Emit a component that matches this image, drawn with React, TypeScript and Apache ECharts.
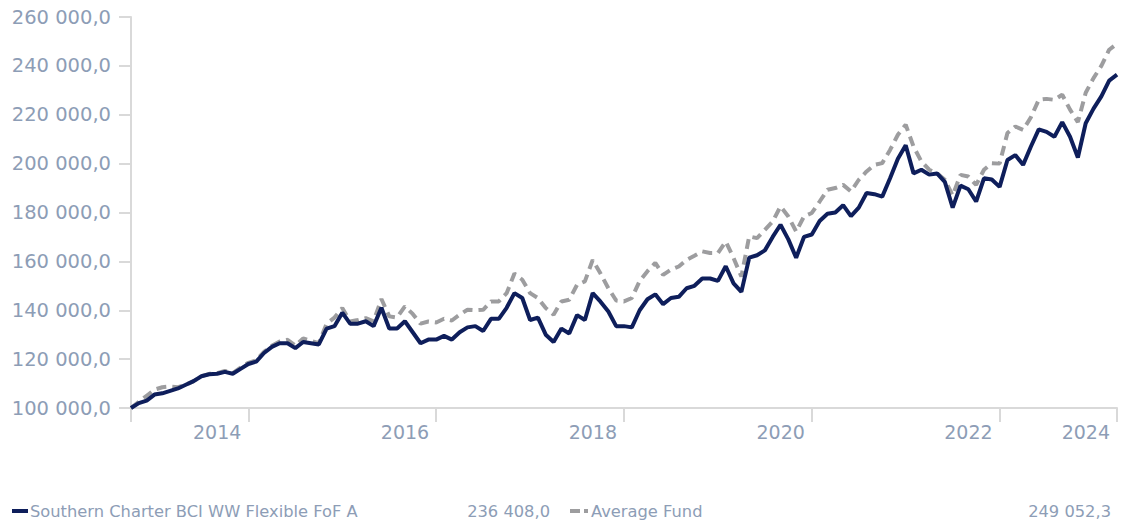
import React, { useEffect, useRef } from "react";
import * as echarts from "echarts";

const startYear = 2013;
const startMonth = 9; // September

const fundValues = [
  100000, 102000, 103000, 105500, 106000, 107000, 108000, 109500, 111000, 113000,
  113800, 114000, 114800, 114000, 116000, 118000, 119000, 122500, 125000, 126500,
  126500, 124500, 127000, 126500, 126000, 132500, 133500, 139000, 134500, 134500,
  135500, 133500, 141000, 132500, 132500, 135500, 131000, 126500, 128000, 128000,
  129500, 128000, 131000, 133000, 133500, 131500, 136500, 136500, 141000, 147000,
  145000, 136000, 137000, 130000, 127000, 132500, 130500, 138000, 136000, 147000,
  143500, 139500, 133500, 133500, 133000, 140000, 144500, 146500, 142500, 145000,
  145500, 149000, 150000, 153000, 153000, 152000, 158000, 151000, 147500, 161500,
  162500, 164500, 170000, 175000, 169000, 161500, 170000, 171000, 176500, 179500,
  180000, 183000, 178500, 182000, 188000, 187500, 186500, 194000, 202000, 207500,
  196000, 197500, 195500, 196000, 192500, 182000, 191000, 189500, 184500, 194000,
  193500, 190500, 201500, 203500, 199500, 207000, 214000, 213000, 211000, 217000,
  211000, 202500, 216500, 222500, 227500, 234000, 236408
];

const averageValues = [
  100000, 102500, 105000, 107500, 108500, 108800, 108500, 109500, 111000, 113000,
  114000, 114200, 115200, 114300, 116500, 118500, 119500, 123000, 125500, 127200,
  127900, 125500, 128500, 127500, 126500, 134500, 137000, 140900, 135400, 136000,
  136800, 135500, 144600, 137500, 137000, 141600, 138500, 134500, 135400, 135000,
  136500, 135800, 138200, 140200, 140000, 140200, 143600, 143600, 147000, 155000,
  152500, 147000, 145000, 140900, 138200, 143600, 144300, 150400, 151800, 160600,
  155000, 149000, 144000, 143600, 145000, 152000, 156000, 159400, 154500, 156600,
  157900, 160600, 162300, 164100, 163400, 163400, 168100, 161400, 153800, 170200,
  169500, 172900, 176300, 182500, 178400, 172200, 178400, 179800, 184500, 189300,
  190000, 191300, 188600, 193400, 196800, 199500, 200200, 205600, 211800, 215900,
  207000, 200900, 197500, 196100, 193400, 187000, 195400, 194700, 191300, 197500,
  200200, 200000, 212500, 215200, 213800, 219000, 226100, 226500, 226100, 228200,
  222100, 217000, 229000, 235000, 240000, 246600, 249052.3
];

const categories: string[] = fundValues.map((_, i) => {
  const m = startMonth - 1 + i;
  const y = startYear + Math.floor(m / 12);
  const mm = (m % 12) + 1;
  return `${y}-${mm < 10 ? "0" + mm : mm}`;
});

const tickIndices = [0, 15, 39, 63, 87, 111, 126];
const labelIndices = [15, 39, 63, 87, 111, 126];

const fundName = "Southern Charter BCI WW Flexible FoF A";
const avgName = "Average Fund";
const fundLast = "236 408,0";
const avgLast = "249 052,3";

const NAVY = "#0e1e5b";
const GREY = "#9d9d9f";
const LABEL = "#8d9db6";
const AXIS = "#d9d9d9";

function fmt(v: number): string {
  const s = Math.round(v).toString().replace(/\B(?=(\d{3})+(?!\d))/g, " ");
  return s + ",0";
}

export default function App() {
  const ref = useRef<HTMLDivElement>(null);
  useEffect(() => {
    if (!ref.current) return;
    const chart = echarts.init(ref.current, null, { renderer: "svg" });
    const font = "DejaVu Sans, Verdana, sans-serif";
    chart.setOption({
      animation: false,
      textStyle: { fontFamily: font },
      grid: { left: 131, right: 8, top: 17, bottom: 114 },
      xAxis: {
        type: "category",
        data: categories,
        boundaryGap: false,
        axisLine: { lineStyle: { color: AXIS, width: 2 } },
        axisTick: {
          length: 14,
          lineStyle: { color: AXIS, width: 2 },
          interval: (i: number) => tickIndices.includes(i),
        },
        axisLabel: {
          interval: (i: number) => labelIndices.includes(i),
          formatter: (v: string) => v.slice(0, 4),
          color: LABEL,
          fontSize: 19,
          fontFamily: font,
          align: "right",
          padding: [0, 7, 0, 0],
          margin: 14,
        },
        splitLine: { show: false },
      },
      yAxis: {
        type: "value",
        min: 100000,
        max: 260000,
        interval: 20000,
        axisLine: { show: true, lineStyle: { color: AXIS, width: 2 } },
        axisTick: { show: true, length: 12, lineStyle: { color: AXIS, width: 2 } },
        axisLabel: {
          color: LABEL,
          fontSize: 19.5,
          fontFamily: font,
          margin: 20,
          formatter: (v: number) => fmt(v),
        },
        splitLine: { show: false },
      },
      series: [
        {
          name: avgName,
          type: "line",
          data: averageValues,
          symbol: "none",
          lineStyle: { color: GREY, width: 4, type: [10, 6] },
          itemStyle: { color: GREY },
          z: 2,
        },
        {
          name: fundName,
          type: "line",
          data: fundValues,
          symbol: "none",
          lineStyle: { color: NAVY, width: 4 },
          itemStyle: { color: NAVY },
          z: 3,
        },
      ],
      graphic: [
        { type: "rect", shape: { x: 12, y: 509, width: 16, height: 4 }, style: { fill: NAVY } },
        {
          type: "text", x: 30, y: 511,
          style: { text: fundName, fill: LABEL, font: `16.3px ${font}`, textVerticalAlign: "middle" },
        },
        {
          type: "text", x: 550, y: 511,
          style: { text: fundLast, fill: LABEL, font: `16.3px ${font}`, textAlign: "right", textVerticalAlign: "middle" },
        },
        { type: "rect", shape: { x: 570, y: 509, width: 10, height: 4 }, style: { fill: GREY } },
        { type: "rect", shape: { x: 584, y: 509, width: 4, height: 4 }, style: { fill: GREY } },
        {
          type: "text", x: 591, y: 511,
          style: { text: avgName, fill: LABEL, font: `16.3px ${font}`, textVerticalAlign: "middle" },
        },
        {
          type: "text", x: 1111, y: 511,
          style: { text: avgLast, fill: LABEL, font: `16.3px ${font}`, textAlign: "right", textVerticalAlign: "middle" },
        },
      ],
    });
    return () => chart.dispose();
  }, []);
  return (
    <div
      ref={ref}
      style={{ position: "fixed", left: 0, top: 0, width: 1125, height: 522, background: "#fff" }}
    />
  );
}
